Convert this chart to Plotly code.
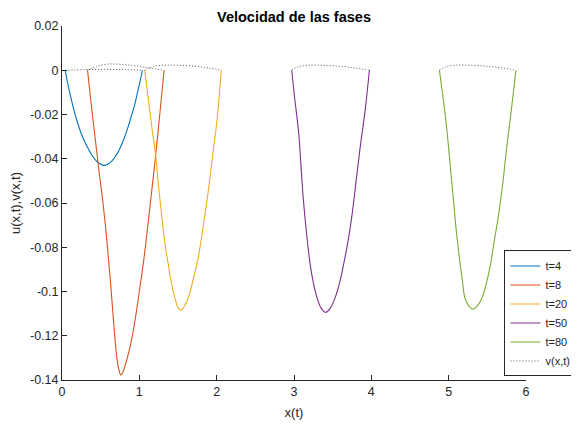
import plotly.graph_objects as go

# ---- data ----
labels = ["t=4", "t=8", "t=20", "t=50", "t=80"]
colors = ["#0072BD", "#D95319", "#EDB120", "#7E2F8E", "#77AC30"]

u4_x = [0.04, 0.09, 0.14, 0.19, 0.24, 0.29, 0.34, 0.39, 0.44, 0.49, 0.54, 0.59, 0.64, 0.69, 0.74, 0.79, 0.84, 0.89, 0.94, 0.99, 1.04]
u4_y = [0, -0.0085, -0.0160, -0.0225, -0.0278, -0.0321, -0.0355, -0.0385, -0.0408, -0.0423, -0.0430, -0.0425, -0.0412, -0.0390, -0.0360, -0.0320, -0.0272, -0.0215, -0.0155, -0.0080, 0]

u8_x = [0.33, 0.38, 0.43, 0.48, 0.53, 0.58, 0.63, 0.67, 0.70, 0.73, 0.76, 0.78, 0.82, 0.88, 0.94, 1.00, 1.06, 1.13, 1.20, 1.27, 1.32]
u8_y = [0, -0.016, -0.031, -0.046, -0.060, -0.077, -0.097, -0.115, -0.127, -0.1345, -0.1377, -0.137, -0.133, -0.125, -0.114, -0.100, -0.085, -0.064, -0.042, -0.018, 0]

u20_x = [1.07, 1.12, 1.17, 1.21, 1.25, 1.29, 1.33, 1.38, 1.42, 1.46, 1.50, 1.53, 1.56, 1.60, 1.65, 1.70, 1.76, 1.82, 1.89, 1.95, 2.00, 2.03, 2.06]
u20_y = [0, -0.014, -0.028, -0.038, -0.053, -0.066, -0.078, -0.089, -0.097, -0.103, -0.1072, -0.1083, -0.1078, -0.1055, -0.101, -0.094, -0.085, -0.072, -0.055, -0.038, -0.024, -0.013, 0]

u50_x = [2.97, 3.01, 3.06, 3.09, 3.12, 3.16, 3.21, 3.25, 3.30, 3.35, 3.41, 3.47, 3.53, 3.59, 3.64, 3.70, 3.75, 3.80, 3.855, 3.92, 3.975]
u50_y = [0, -0.013, -0.028, -0.043, -0.058, -0.073, -0.088, -0.096, -0.103, -0.1075, -0.1094, -0.1075, -0.103, -0.096, -0.088, -0.077, -0.0655, -0.051, -0.035, -0.018, 0]

u80_x = [4.88, 4.93, 4.98, 5.02, 5.06, 5.10, 5.15, 5.18, 5.21, 5.26, 5.31, 5.37, 5.43, 5.49, 5.54, 5.59, 5.645, 5.70, 5.75, 5.81, 5.87]
u80_y = [0, -0.013, -0.028, -0.043, -0.058, -0.073, -0.088, -0.096, -0.103, -0.1065, -0.108, -0.1065, -0.103, -0.096, -0.088, -0.077, -0.0655, -0.051, -0.035, -0.018, 0]

v4_x = [0.04, 0.30, 0.55, 0.80, 1.04]
v4_y = [0, 0.0003, 0.0004, 0.0003, 0]
v8_x = [0.33, 0.45, 0.60, 0.75, 0.90, 1.10, 1.32]
v8_y = [0, 0.0018, 0.0028, 0.0027, 0.0022, 0.0012, 0]
v20_x = [1.07, 1.20, 1.35, 1.55, 1.75, 1.90, 2.06]
v20_y = [0, 0.0018, 0.0023, 0.0022, 0.0017, 0.0010, 0]
v50_x = [2.97, 3.05, 3.20, 3.40, 3.60, 3.80, 3.975]
v50_y = [0, 0.0015, 0.0023, 0.0022, 0.0018, 0.0010, 0]
v80_x = [4.88, 4.96, 5.10, 5.30, 5.50, 5.70, 5.87]
v80_y = [0, 0.0015, 0.0023, 0.0022, 0.0018, 0.0010, 0]

x_ticks = [0, 1, 2, 3, 4, 5, 6]
y_ticks = [0.02, 0, -0.02, -0.04, -0.06, -0.08, -0.1, -0.12, -0.14]
y_ticktext = ["0.02", "0", "-0.02", "-0.04", "-0.06", "-0.08", "-0.1", "-0.12", "-0.14"]

u_series = [(u4_x, u4_y), (u8_x, u8_y), (u20_x, u20_y), (u50_x, u50_y), (u80_x, u80_y)]
v_series = [(v4_x, v4_y), (v8_x, v8_y), (v20_x, v20_y), (v50_x, v50_y), (v80_x, v80_y)]

FONT = "Liberation Sans, Arial, sans-serif"
AX = "#262626"

fig = go.Figure()
for (xs, ys), name, c in zip(u_series, labels, colors):
    fig.add_trace(go.Scatter(x=xs, y=ys, mode="lines", name=name,
                             line=dict(color=c, width=1.1, shape="spline", smoothing=1.0)))
for i, (xs, ys) in enumerate(v_series):
    fig.add_trace(go.Scatter(x=xs, y=ys, mode="lines", name="v(x,t)",
                             legendgroup="v", showlegend=(i == 0),
                             line=dict(color="#555555", width=1, dash="1px,2px", shape="spline")))

W, H = 571, 418
fig.update_layout(
    width=W, height=H,
    margin=dict(l=54, r=53, t=18, b=46, autoexpand=False),
    paper_bgcolor="white", plot_bgcolor="white",
    font=dict(family=FONT, size=12, color=AX),
    title=dict(text="<b>Velocidad de las fases</b>", x=0.5, xref="paper",
               y=1 - 8.5 / H, yref="container", yanchor="middle", xanchor="center",
               font=dict(family=FONT, size=14.5, color="#000000")),
    xaxis=dict(range=[0, 6], tickvals=x_ticks, ticks="inside", ticklen=5, tickcolor=AX,
               showline=True, linecolor=AX, linewidth=1, showgrid=False, zeroline=False,
               automargin=False,
               title=dict(text="x(t)", standoff=9, font=dict(size=13)),
               tickfont=dict(size=12.5)),
    yaxis=dict(range=[-0.14, 0.02], tickvals=y_ticks, ticktext=y_ticktext, ticks="inside",
               ticklen=5, tickcolor=AX, showline=True, linecolor=AX, linewidth=1,
               showgrid=False, zeroline=False, automargin=False,
               title=dict(text="u(x,t),v(x,t)", standoff=6, font=dict(size=13)),
               tickfont=dict(size=12.5)),
    legend=dict(x=0.9536, y=0.01, xanchor="left", yanchor="bottom",
                bgcolor="white", bordercolor=AX, borderwidth=1,
                font=dict(size=11), tracegroupgap=0, itemwidth=30),
    showlegend=True,
)

fig.write_html("out.html")
